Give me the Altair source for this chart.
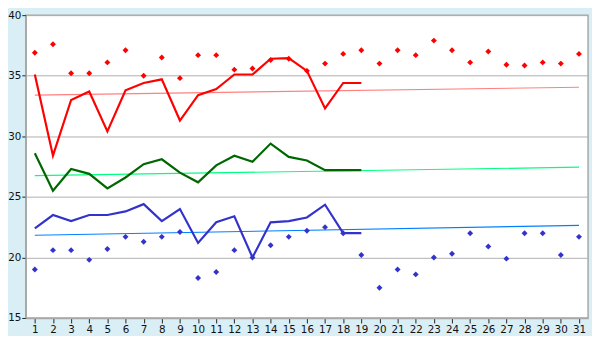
import altair as alt
import pandas as pd

# ---- data ----
days = list(range(1, 32))
line_days = list(range(1, 20))
red_line = [35.1, 28.4, 33.0, 33.7, 30.4, 33.8, 34.4, 34.7, 31.3, 33.4,
            33.9, 35.1, 35.1, 36.4, 36.45, 35.4, 32.3, 34.4, 34.4]
green_line = [28.6, 25.5, 27.3, 26.9, 25.7, 26.6, 27.7, 28.1, 27.0, 26.2,
              27.6, 28.4, 27.9, 29.4, 28.3, 28.0, 27.2, 27.2, 27.2]
blue_line = [22.4, 23.5, 23.0, 23.5, 23.5, 23.8, 24.4, 23.0, 24.0, 21.2,
             22.9, 23.4, 20.0, 22.9, 23.0, 23.3, 24.35, 22.0, 22.0]
red_points = [36.9, 37.6, 35.2, 35.2, 36.1, 37.1, 35.0, 36.5, 34.8, 36.7,
              36.7, 35.5, 35.6, 36.3, 36.4, 35.4, 36.0, 36.8, 37.1, 36.0,
              37.1, 36.7, 37.9, 37.1, 36.1, 37.0, 35.9, 35.85, 36.1, 36.0, 36.8]
blue_points = [19.0, 20.6, 20.6, 19.8, 20.7, 21.7, 21.3, 21.7, 22.1, 18.3,
               18.8, 20.6, 20.0, 21.0, 21.7, 22.2, 22.5, 22.0, 20.2, 17.5,
               19.0, 18.6, 20.0, 20.3, 22.0, 20.9, 19.9, 22.0, 22.0, 20.2, 21.7]
trend_days = [1, 31]
red_trend = [33.4, 34.05]
green_trend = [26.75, 27.45]
blue_trend = [21.83, 22.65]
y_ticks = [15, 20, 25, 30, 35, 40]

line_names = ["max", "mean", "min"]
line_colors = ["#ff0000", "#006600", "#3333cc"]
trend_names = ["tmax", "tmean", "tmin"]
trend_colors = ["#ff8080", "#00ff80", "#0080ff"]
point_names = ["pmax", "pmin"]
point_colors = ["#ff0000", "#3333cc"]

lines_df = pd.DataFrame({
    "day": line_days * 3,
    "value": red_line + green_line + blue_line,
    "series": ["max"] * 19 + ["mean"] * 19 + ["min"] * 19,
})
trend_df = pd.DataFrame({
    "day": trend_days * 3,
    "value": red_trend + green_trend + blue_trend,
    "series": ["tmax"] * 2 + ["tmean"] * 2 + ["tmin"] * 2,
})
points_df = pd.DataFrame({
    "day": days * 2,
    "value": red_points + blue_points,
    "series": ["pmax"] * 31 + ["pmin"] * 31,
})

x_enc = alt.X("day:Q",
              scale=alt.Scale(domain=[0.5, 31.5], nice=False, zero=False),
              axis=alt.Axis(values=days, title=None, grid=False, tickSize=5,
                            labelPadding=2, format="d", labelFlush=False))
y_enc = alt.Y("value:Q",
              scale=alt.Scale(domain=[15, 40], nice=False, zero=False),
              axis=alt.Axis(values=y_ticks, title=None, grid=True, tickSize=4,
                            labelPadding=1, labelFlush=False))

trend = alt.Chart(trend_df).mark_line(strokeWidth=1.2).encode(
    x=x_enc, y=y_enc,
    color=alt.Color("series:N", scale=alt.Scale(domain=trend_names, range=trend_colors), legend=None),
    detail="series:N",
)
lines = alt.Chart(lines_df).mark_line(strokeWidth=2.2).encode(
    x=x_enc, y=y_enc,
    color=alt.Color("series:N", scale=alt.Scale(domain=line_names, range=line_colors), legend=None),
    detail="series:N",
)
points = alt.Chart(points_df).mark_point(shape="diamond", filled=True, size=36, opacity=1).encode(
    x=x_enc, y=y_enc,
    color=alt.Color("series:N", scale=alt.Scale(domain=point_names, range=point_colors), legend=None),
)

chart = alt.layer(trend, lines, points).resolve_scale(color="independent").properties(
    width=570, height=307,
    autosize=alt.AutoSizeParams(type="none"),
    padding={"left": 18, "top": 5, "right": 4, "bottom": 16},
    background="#d9eef5",
).configure_view(
    fill="white", stroke="#a8a8a8", strokeWidth=1.5
).configure_axis(
    domainColor="#a8a8a8", domainWidth=1.5,
    gridColor="#b0b0b0", gridWidth=1,
    tickColor="#222222", labelColor="#111111",
    labelFont="DejaVu Sans", labelFontSize=10.5,
)

chart.save("out.html", embed_options={"renderer": "svg", "actions": False})
